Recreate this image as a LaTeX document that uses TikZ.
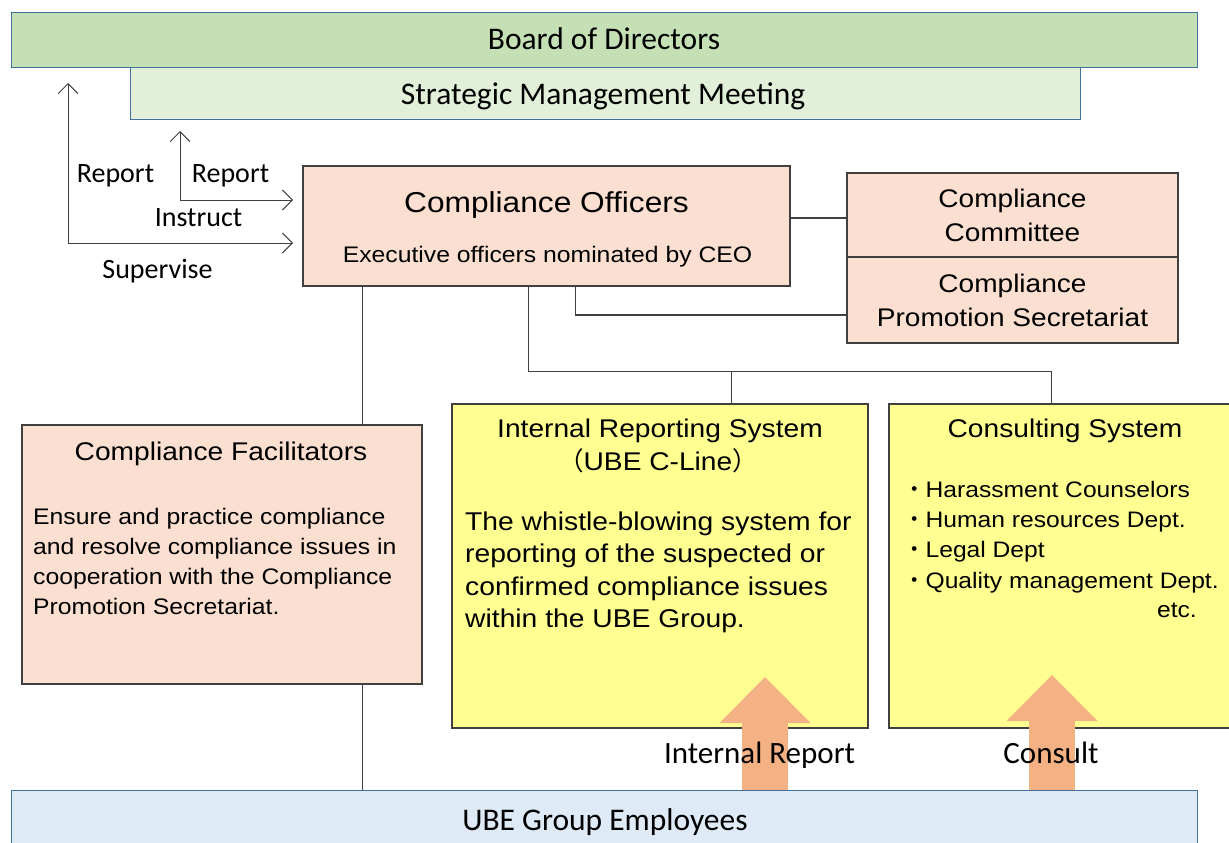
\documentclass[tikz,border=0pt]{standalone}
\usepackage{fontspec}
\setmainfont{Liberation Sans}[FakeStretch=1.1]
\newfontfamily\calibri{Carlito}
\newfontfamily\jpfont{Noto Sans CJK JP}
\usetikzlibrary{arrows.meta,positioning,calc}

\definecolor{boardgreen}{HTML}{C5E0B4}
\definecolor{meetgreen}{HTML}{E2F0D9}
\definecolor{staffblue}{HTML}{DEEBF7}
\definecolor{tierline}{HTML}{41719C}
\definecolor{peach}{HTML}{FBE0D2}
\definecolor{lemon}{HTML}{FFFF91}
\definecolor{flow}{HTML}{F4B183}
\definecolor{ink}{HTML}{404040}

\newcommand{\fsz}[2]{\fontsize{#1}{#2}\selectfont}

\tikzset{
  tier/.style={rectangle,draw=tierline,line width=1pt,inner sep=0pt},
  unit/.style={rectangle,draw=ink,line width=1.3pt,fill=peach,inner sep=0pt,align=center},
  system/.style={rectangle,draw=ink,line width=1.3pt,fill=lemon,inner sep=0pt},
  tierlabel/.style={inner sep=0pt,anchor=base,font=\calibri\fsz{31.5}{38}},
  tag/.style={inner sep=0pt,anchor=base,font=\calibri\fsz{28}{34}},
  boxhead/.style={inner sep=0pt,anchor=base,font=\fsz{25.6}{33}},
  body/.style={inner sep=0pt,anchor=north west,align=left},
  link/.style={draw=ink,line width=1.3pt},
  feed/.style={{Straight Barb[length=10pt,width=20pt]}-{Straight Barb[length=10pt,width=20pt]},
    draw=ink,line width=1pt},
  bulk/.style={draw=flow,line width=46pt,-{Triangle[length=46pt,width=91pt,line width=0pt]}},
}

\begin{document}
\begin{tikzpicture}[x=1pt,y=-1pt]
\useasboundingbox (0,0) rectangle (1229,843);
\clip (0,0) rectangle (1229,843);

% board and meeting on top
\node[tier,fill=boardgreen,minimum width=1186pt,minimum height=55pt] (board) at (604,40.5) {};
\node[tier,fill=meetgreen,minimum width=950pt,minimum height=51pt] (meeting) at (605,93.5) {};
\node[tierlabel] (board label) at (604,50) {Board of Directors};
\node[tierlabel] (meeting label) at (603,104) {Strategic Management Meeting};

% officers and their committee / secretariat
\node[unit,minimum width=487pt,minimum height=120pt] (officers) at (546.5,226) {};
\node[inner sep=0pt,anchor=base,font=\fsz{28.8}{34}] (officers label) at (546.5,212) {Compliance Officers};
\node[inner sep=0pt,anchor=base,font=\fsz{22.5}{28}] (officers note) at (547.5,262) {Executive officers nominated by CEO};
\node[unit,minimum width=331pt,minimum height=84pt,font=\fsz{25.5}{34}] (committee) at (1012.5,215) {Compliance\\Committee};
\node[unit,minimum width=331pt,minimum height=86pt,font=\fsz{25.5}{34}] (secretariat) at (1012.5,300) {Compliance\\Promotion Secretariat};

% facilitators
\node[unit,minimum width=400pt,minimum height=259pt] (facil) at (222,554.5) {};
\node[boxhead] (facil label) at (221,460) {Compliance Facilitators};
\node[body,font=\fsz{22.5}{30}] (facil text) at (33,507.8)
  {Ensure and practice compliance\\and resolve compliance issues in\\cooperation with the Compliance\\Promotion Secretariat.};

% reporting and consulting systems
\node[system,minimum width=416pt,minimum height=324pt] (internal) at (660,566) {};
\node[boxhead] (internal label) at (660,437) {Internal Reporting System};
\node[boxhead] (internal sub) at (658,470) {{\jpfont （}UBE C-Line{\jpfont ）}};
\node[body,font=\fsz{25.7}{32.5}] (internal text) at (465,511.5)
  {The whistle-blowing system for\\reporting of the suspected or\\confirmed compliance issues\\within the UBE Group.};

\node[system,minimum width=372pt,minimum height=324pt] (consult) at (1075,566) {};
\node[boxhead] (consult label) at (1065,437) {Consulting System};
\node[body,font=\fsz{22.4}{30.2}] (consult list) at (903,481)
  {{\jpfont ・}Harassment Counselors\\{\jpfont ・}Human resources Dept.\\{\jpfont ・}Legal Dept\\{\jpfont ・}Quality management Dept.};
\node[inner sep=0pt,anchor=base east,font=\fsz{22.4}{30}] (consult etc) at (1197,617) {etc.};

% employees at the bottom
\node[tier,fill=staffblue,minimum width=1186pt,minimum height=80pt] (staff) at (604,830) {};
\node[tierlabel] (staff label) at (605,830) {UBE Group Employees};

% organisation lines
\coordinate (facil tap) at ([xshift=60pt]officers.south west);
\draw[link] (facil tap) -- (facil tap |- facil.north);
\draw[link] (facil tap |- facil.south) -- (facil tap |- staff.north);
\draw[link] ([yshift=-3pt]officers.east |- committee.west) -- ([yshift=-3pt]committee.west);
\coordinate (secretariat tap) at ([xshift=273pt]officers.south west);
\draw[link] (secretariat tap) |- ([yshift=-15pt]secretariat.west);
\coordinate (system tap) at ([xshift=226pt]officers.south west);
\coordinate (system bus) at ([yshift=-85pt]system tap);
\coordinate (internal drop) at ([xshift=280pt]internal.north west);
\coordinate (consult drop) at ([xshift=163pt]consult.north west);
\draw[link] (system tap) -- (system bus) -| (consult drop);
\draw[link] (system bus -| internal drop) -- (internal drop);

% report / instruct / supervise
\coordinate (board report) at (68,83);
\coordinate (supervise end) at (293,243);
\coordinate (meeting report) at (180,131);
\coordinate (instruct end) at (293,200);
\draw[feed] (board report) |- (supervise end);
\draw[feed] (meeting report) |- (instruct end);
\node[tag] (report a) at (115.5,182) {Report};
\node[tag] (report b) at (230.5,182) {Report};
\node[tag] (instruct) at (198.5,226) {Instruct};
\node[tag] (supervise) at (157.5,278) {Supervise};

% employees report and consult
\coordinate (report tip) at (765,677);
\coordinate (consult tip) at (1052,675);
\draw[bulk] (staff.north -| report tip) -- (report tip);
\draw[bulk] (staff.north -| consult tip) -- (consult tip);
\node[tierlabel,font=\calibri\fsz{31}{36}] (report label) at (759.5,763) {Internal Report};
\node[tierlabel,font=\calibri\fsz{31}{36}] (consult label2) at (1051,763) {Consult};
\end{tikzpicture}
\end{document}
